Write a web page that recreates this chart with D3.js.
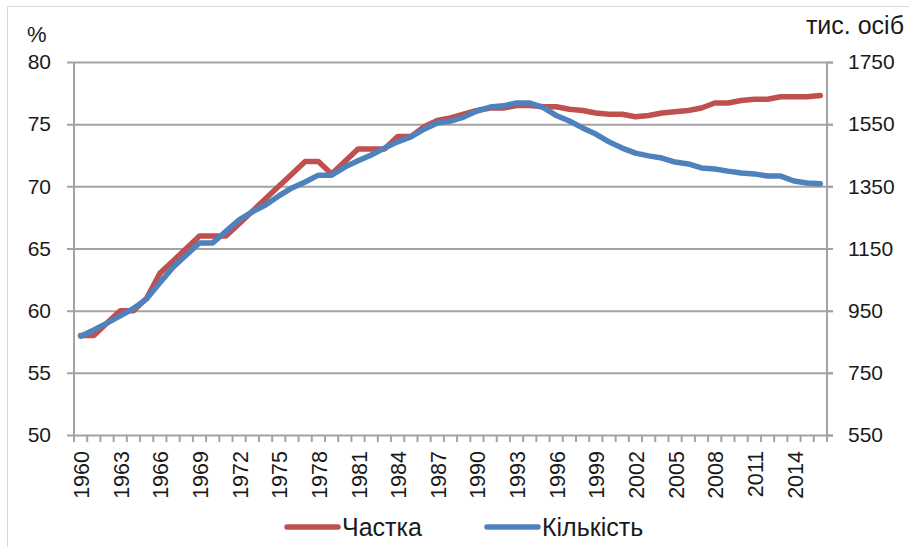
<!DOCTYPE html>
<html>
<head>
<meta charset="utf-8">
<script src="https://cdn.jsdelivr.net/npm/d3@7"></script>
<style>
  body { margin: 0; background: #fff; }
  svg { font-family: "Liberation Sans", Arial, sans-serif; }
</style>
</head>
<body>
<svg id="chart" width="909" height="547"></svg>
<script>
// data
var years = d3.range(1960, 2017);
var shareValues = [58, 58, 59, 60, 60, 61, 63, 64, 65, 66,
    66, 66, 67, 68, 69, 70, 71, 72, 72, 71,
    72, 73, 73, 73, 74, 74, 74.8, 75.3, 75.5, 75.8,
    76.1, 76.3, 76.3, 76.5, 76.5, 76.4, 76.4, 76.2, 76.1, 75.9,
    75.8, 75.8, 75.6, 75.7, 75.9, 76.0, 76.1, 76.3, 76.7, 76.7,
    76.9, 77.0, 77.0, 77.2, 77.2, 77.2, 77.3];
var countValues = [868, 888, 910, 933, 957, 988, 1040, 1090, 1129, 1168,
    1168, 1205, 1242, 1268, 1290, 1319, 1345, 1364, 1386, 1386,
    1412, 1432, 1451, 1473, 1493, 1509, 1534, 1554, 1560, 1573,
    1592, 1605, 1609, 1618, 1618, 1604, 1578, 1560, 1538, 1518,
    1493, 1473, 1457, 1448, 1441, 1428, 1422, 1409, 1406, 1399,
    1393, 1390, 1383, 1383, 1367, 1361, 1358];
var leftTicks = [50, 55, 60, 65, 70, 75, 80];
var rightTicks = [550, 750, 950, 1150, 1350, 1550, 1750];
var legendNames = ["Частка", "Кількість"];
var colors = ["#c0504d", "#4f81bd"];

var svg = d3.select("#chart");
var plotLeft = 74, plotRight = 827, plotTop = 62, plotBottom = 435;
var gridColor = "#a3a3a3";
var textColor = "#1a1a1a";
var tickFont = 21;

// outer border of chart area
svg.append("rect")
    .attr("x", 7.5).attr("y", 6.5)
    .attr("width", 1000).attr("height", 1000)
    .attr("fill", "none").attr("stroke", "#d9d9d9").attr("stroke-width", 1);

var xScale = d3.scaleBand().domain(years).range([plotLeft, plotRight]).padding(0);
var yLeft = d3.scaleLinear().domain([50, 80]).range([plotBottom, plotTop]);
var yRight = d3.scaleLinear().domain([550, 1750]).range([plotBottom, plotTop]);
function xc(d) { return xScale(d) + xScale.bandwidth() / 2; }

// gridlines + left axis
var gLeft = svg.append("g").attr("transform", "translate(" + plotLeft + ",0)")
    .call(d3.axisLeft(yLeft).tickValues(leftTicks).tickSize(7).tickPadding(16));
gLeft.select(".domain").remove();
gLeft.selectAll(".tick line").attr("stroke", gridColor).attr("stroke-width", 2)
    .attr("x1", -7).attr("x2", plotRight - plotLeft + 6);
gLeft.selectAll(".tick text").attr("font-size", tickFont).attr("fill", textColor)
    .attr("font-family", "Liberation Sans, Arial, sans-serif");

// right axis
var gRight = svg.append("g").attr("transform", "translate(" + plotRight + ",0)")
    .call(d3.axisRight(yRight).tickValues(rightTicks).tickFormat(d3.format("d"))
        .tickSize(6).tickPadding(15));
gRight.select(".domain").remove();
gRight.selectAll(".tick line").attr("stroke", gridColor).attr("stroke-width", 2);
gRight.selectAll(".tick text").attr("font-size", tickFont).attr("fill", textColor)
    .attr("font-family", "Liberation Sans, Arial, sans-serif");

// vertical axis lines
svg.append("line").attr("x1", plotLeft).attr("x2", plotLeft).attr("y1", plotTop).attr("y2", plotBottom + 7)
    .attr("stroke", gridColor).attr("stroke-width", 2);
svg.append("line").attr("x1", plotRight).attr("x2", plotRight).attr("y1", plotTop).attr("y2", plotBottom + 7)
    .attr("stroke", gridColor).attr("stroke-width", 2);

// bottom tick marks at category boundaries
svg.append("g").selectAll("line")
    .data(years.concat([2017]))
    .enter().append("line")
    .attr("x1", function(d) { return d === 2017 ? plotRight : xScale(d); })
    .attr("x2", function(d) { return d === 2017 ? plotRight : xScale(d); })
    .attr("y1", plotBottom).attr("y2", plotBottom + 7)
    .attr("stroke", gridColor).attr("stroke-width", 2);

svg.append("g").selectAll("text")
    .data(years.filter(function(d) { return (d - 1960) % 3 === 0; }))
    .enter().append("text")
    .attr("transform", function(d) { return "translate(" + (xc(d) + 1) + ",451) rotate(-90)"; })
    .attr("text-anchor", "end")
    .attr("dy", "0.35em")
    .attr("font-size", 21.5)
    .attr("fill", textColor)
    .text(function(d) { return d; });

// axis titles
svg.append("text").attr("x", 27).attr("y", 42).attr("font-size", 22).attr("fill", textColor).text("%");
svg.append("text").attr("x", 904).attr("y", 34).attr("text-anchor", "end")
    .attr("font-size", 25).attr("fill", textColor).text("тис. осіб");

// lines
var shareLine = d3.line()
    .x(function(d, i) { return xc(years[i]); })
    .y(function(d) { return yLeft(d); });
var countLine = d3.line()
    .x(function(d, i) { return xc(years[i]); })
    .y(function(d) { return yRight(d); });

svg.append("path").datum(shareValues)
    .attr("d", shareLine)
    .attr("fill", "none").attr("stroke", colors[0]).attr("stroke-width", 5.5)
    .attr("stroke-linejoin", "round").attr("stroke-linecap", "round");
svg.append("path").datum(countValues)
    .attr("d", countLine)
    .attr("fill", "none").attr("stroke", colors[1]).attr("stroke-width", 5.5)
    .attr("stroke-linejoin", "round").attr("stroke-linecap", "round");

// legend
var legendX = [287, 487];
var legend = svg.append("g").selectAll("g")
    .data(legendNames)
    .enter().append("g")
    .attr("transform", function(d, i) { return "translate(" + legendX[i] + ",527)"; });
legend.append("line")
    .attr("x1", 0).attr("x2", 51).attr("y1", 0).attr("y2", 0)
    .attr("stroke", function(d, i) { return colors[i]; })
    .attr("stroke-width", 5.5).attr("stroke-linecap", "round");
legend.append("text")
    .attr("x", 55).attr("y", 0).attr("dy", "0.35em")
    .attr("font-size", 25).attr("fill", textColor)
    .text(function(d) { return d; });
</script>
</body>
</html>
